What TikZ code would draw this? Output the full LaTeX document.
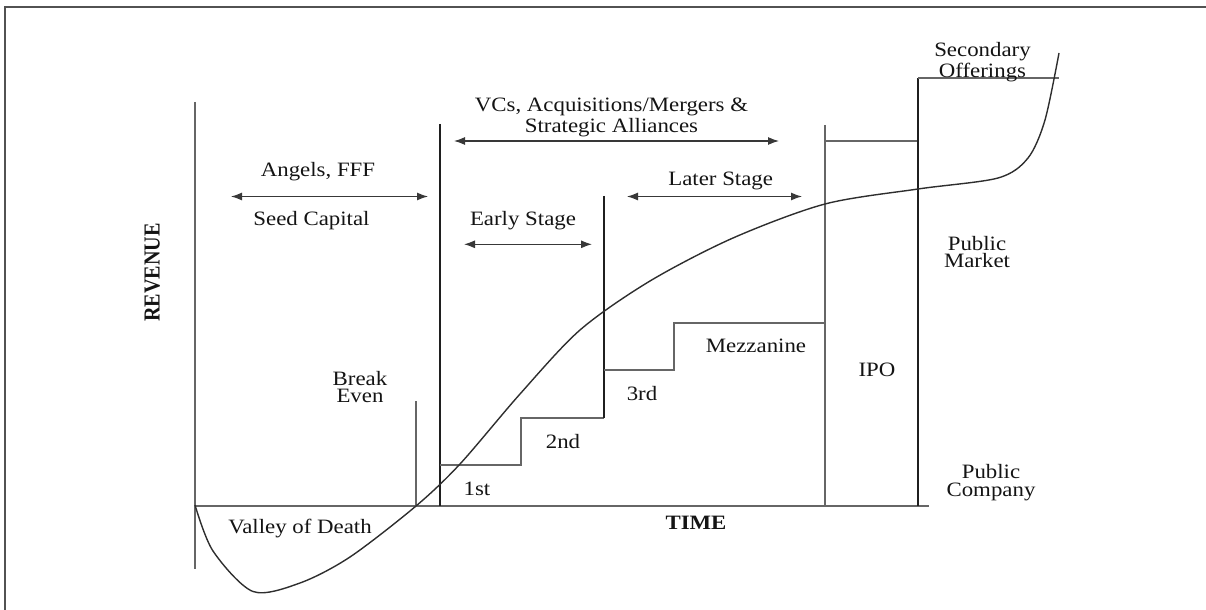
\documentclass[tikz,border=0pt]{standalone}
\usepackage{fontspec}
\setmainfont{Liberation Serif}[FakeStretch=1.12]
\newfontfamily\revfont{Liberation Serif}[FakeStretch=0.88]
\usetikzlibrary{arrows.meta}
\begin{document}
\begin{tikzpicture}[x=0.5pt,y=-0.5pt,
  lbl/.style={font=\fontsize{10.2}{8.9}\selectfont, text=black!92, align=center, inner sep=0pt},
  blbl/.style={lbl, font=\fontsize{10.2}{8.9}\selectfont\bfseries},
  gline/.style={draw=black!60, line width=0.75pt},
  kline/.style={draw=black!88, line width=0.8pt},
  frameline/.style={draw=black!68, line width=1.1pt},
  dblarrow/.style={draw=black!78, line width=0.6pt, {Latex[length=5.5pt,width=4pt]}-{Latex[length=5.5pt,width=4pt]}},
  curveline/.style={draw=black!82, line width=0.7pt}]
\useasboundingbox (0,0) rectangle (1206,610);
% frame
\draw[frameline] (5,612) -- (5,7) -- (1208,7);
% axes
\draw[gline] (195,102) -- (195,569);
\draw[gline] (195,506) -- (929,506);
% break even
\draw[gline] (416,401) -- (416,506);
% VC line
\draw[kline] (440,124) -- (440,506);
% steps
\draw[gline] (440,465) -- (521,465) -- (521,418) -- (604,418);
\draw[kline] (604,196) -- (604,418);
\draw[gline] (604,370) -- (674,370) -- (674,323) -- (825,323);
% IPO
\draw[gline] (825,125) -- (825,506);
\draw[gline] (825,141) -- (918,141);
% public
\draw[kline] (918,78) -- (918,506);
\draw[gline] (918,78) -- (1059,78);
% curve
\draw[curveline] plot[smooth, tension=0.5] coordinates {
 (195,505) (213,551) (253,591.5) (300,583) (350,557) (416,506)
 (460,464) (520,394) (580,330) (650,281) (733,238) (825,204) (918,189)
 (998,178) (1028,158) (1045,120) (1059,53)};
% arrows
\coordinate (a1) at (231,196.5); \coordinate (a2) at (428,196.5);
\coordinate (v1) at (454,141); \coordinate (v2) at (779,141);
\coordinate (l1) at (627,196.5); \coordinate (l2) at (802,196.5);
\coordinate (e1) at (464,244.3); \coordinate (e2) at (592,244.3);
\draw[dblarrow] (a1) -- (a2);
\draw[dblarrow] (v1) -- (v2);
\draw[dblarrow] (l1) -- (l2);
\draw[dblarrow] (e1) -- (e2);
% labels
\node[lbl] (angels) at (318,172) {Angels, FFF};
\node[lbl] (seed) at (311.5,221) {Seed Capital};
\node[lbl] (vcs) at (611.5,117.5) {VCs, Acquisitions/Mergers \&\\Strategic Alliances};
\node[lbl] (later) at (720.7,181) {Later Stage};
\node[lbl] (early) at (523,221) {Early Stage};
\node[lbl] (breakeven) at (360,387) {Break\\Even};
\node[lbl] (first) at (477,489) {1st};
\node[lbl] (second) at (563,441.5) {2nd};
\node[lbl] (third) at (642,394) {3rd};
\node[lbl] (mezz) at (756,346) {Mezzanine};
\node[lbl] (ipo) at (877,370) {IPO};
\node[lbl] (pmarket) at (977,252) {Public\\Market};
\node[lbl] (pcompany) at (991,483) {Public\\Company};
\node[lbl] (second off) at (982.5,62.5) {Secondary\\Offerings};
\node[lbl] (valley) at (300,529) {Valley of Death};
\node[blbl] (time) at (696,522.5) {TIME};
\node[lbl, rotate=90, font=\fontsize{11.45}{11}\selectfont\revfont\bfseries] (revenue) at (152.3,272.3) {REVENUE};
\end{tikzpicture}
\end{document}
